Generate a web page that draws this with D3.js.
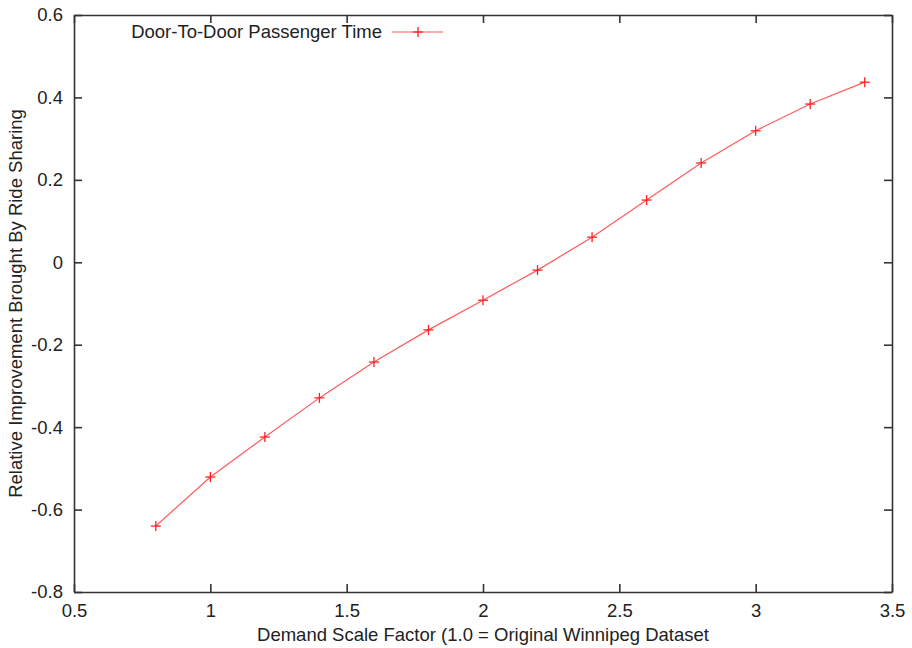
<!DOCTYPE html>
<html>
<head>
<meta charset="utf-8">
<script src="https://cdn.jsdelivr.net/npm/d3@7"></script>
<style>
  body { margin: 0; background: #fff; }
  text { font-family: "Liberation Sans", Arial, sans-serif; fill: #222; }
</style>
</head>
<body>
<div id="chart"></div>
<script>
// demand scale factor vs relative improvement
var scaleFactors = [0.8, 1.0, 1.2, 1.4, 1.6, 1.8, 2.0, 2.2, 2.4, 2.6, 2.8, 3.0, 3.2, 3.4];
var improvement = [-0.640, -0.521, -0.424, -0.329, -0.242, -0.164, -0.092, -0.019, 0.061, 0.151, 0.241, 0.319, 0.384, 0.437];
var xTicks = [0.5, 1, 1.5, 2, 2.5, 3, 3.5];
var yTicks = [-0.8, -0.6, -0.4, -0.2, 0, 0.2, 0.4, 0.6];
var seriesName = "Door-To-Door Passenger Time";

var width = 912, height = 648;
var margin = {top: 15, right: 20, bottom: 56, left: 74};
var fontSize = "18.5px";

var svg = d3.select("#chart").append("svg")
  .attr("width", width)
  .attr("height", height);

var x = d3.scaleLinear().domain([0.5, 3.5]).range([margin.left, width - margin.right]);
var y = d3.scaleLinear().domain([-0.8, 0.6]).range([height - margin.bottom, margin.top]);

var tickLen = 8;
// plain hyphen for negatives, like the original
var fmt = function(d) { return String(+d.toFixed(1)); };

// axes with inward ticks, mirrored on top and right
svg.append("g")
  .attr("transform", "translate(0," + y(-0.8) + ")")
  .call(d3.axisBottom(x).tickValues(xTicks).tickFormat(fmt).tickSizeInner(-tickLen).tickSizeOuter(0).tickPadding(12));
svg.append("g")
  .attr("transform", "translate(0," + y(0.6) + ")")
  .call(d3.axisTop(x).tickValues(xTicks).tickFormat("").tickSizeInner(-tickLen).tickSizeOuter(0));
svg.append("g")
  .attr("transform", "translate(" + x(0.5) + ",0)")
  .call(d3.axisLeft(y).tickValues(yTicks).tickFormat(fmt).tickSizeInner(-tickLen).tickSizeOuter(0).tickPadding(11));
svg.append("g")
  .attr("transform", "translate(" + x(3.5) + ",0)")
  .call(d3.axisRight(y).tickValues(yTicks).tickFormat("").tickSizeInner(-tickLen).tickSizeOuter(0));

svg.selectAll(".domain").attr("stroke", "#333").attr("stroke-width", 1.6);
svg.selectAll(".tick line").attr("stroke", "#333").attr("stroke-width", 1.6);
svg.selectAll(".tick text").style("font-size", fontSize).style("font-family", "Liberation Sans, Arial, sans-serif").attr("fill", "#222");

// line
var pts = scaleFactors.map(function(d, i) { return [d, improvement[i]]; });
var line = d3.line().x(function(d) { return x(d[0]); }).y(function(d) { return y(d[1]); });

svg.append("path")
  .datum(pts)
  .attr("fill", "none")
  .attr("stroke", "#ff5a5a")
  .attr("stroke-width", 1.2)
  .attr("d", line);

var m = 5;
var marks = svg.append("g").selectAll("g")
  .data(pts)
  .enter()
  .append("g")
  .attr("transform", function(d) { return "translate(" + x(d[0]) + "," + y(d[1]) + ")"; });
marks.append("line").attr("x1", -m).attr("x2", m).attr("stroke", "#ff2020").attr("stroke-width", 1.3);
marks.append("line").attr("y1", -m).attr("y2", m).attr("stroke", "#ff2020").attr("stroke-width", 1.3);

// legend
var lg = svg.append("g");
lg.append("text")
  .attr("x", 382).attr("y", 38)
  .attr("text-anchor", "end")
  .style("font-size", fontSize)
  .text(seriesName);
lg.append("line").attr("x1", 392).attr("x2", 443).attr("y1", 32).attr("y2", 32)
  .attr("stroke", "#ff5a5a").attr("stroke-width", 1.2);
lg.append("line").attr("x1", 413).attr("x2", 423).attr("y1", 32).attr("y2", 32)
  .attr("stroke", "#ff2020").attr("stroke-width", 1.3);
lg.append("line").attr("x1", 418).attr("x2", 418).attr("y1", 27).attr("y2", 37)
  .attr("stroke", "#ff2020").attr("stroke-width", 1.3);

// axis titles
svg.append("text")
  .attr("x", (x(0.5) + x(3.5)) / 2)
  .attr("y", 641)
  .attr("text-anchor", "middle")
  .style("font-size", fontSize)
  .text("Demand Scale Factor (1.0 = Original Winnipeg Dataset");

svg.append("text")
  .attr("transform", "translate(22," + ((y(-0.8) + y(0.6)) / 2) + ") rotate(-90)")
  .attr("text-anchor", "middle")
  .style("font-size", fontSize)
  .text("Relative Improvement Brought By Ride Sharing");
</script>
</body>
</html>
